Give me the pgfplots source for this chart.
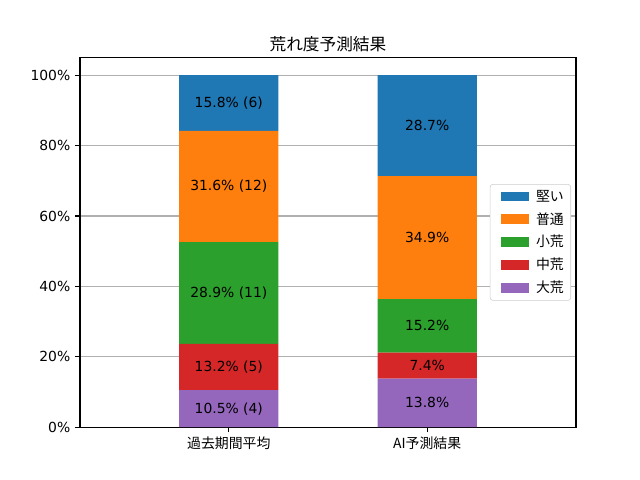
\documentclass[border=0pt]{standalone}
\usepackage{fontspec}
\setmainfont{DejaVu Sans}
\newfontfamily\jp{Noto Sans CJK JP}
\usepackage{pgfplots}
\pgfplotsset{compat=1.18}
\definecolor{cblue}{HTML}{1F77B4}
\definecolor{corange}{HTML}{FF7F0E}
\definecolor{cgreen}{HTML}{2CA02C}
\definecolor{cred}{HTML}{D62728}
\definecolor{cpurple}{HTML}{9467BD}
\begin{document}
\begin{tikzpicture}[x=1pt,y=1pt]
\path[use as bounding box] (0,0) rectangle (460.8,345.6);
\begin{axis}[
  at={(57.6pt,38.016pt)}, anchor=south west,
  scale only axis, width=357.12pt, height=266.11pt,
  xmin=-0.75, xmax=1.75, ymin=0, ymax=105,
  ybar stacked, bar width=0.5,
  xtick={0,1}, xticklabels={{\jp 過去期間平均},{\jp AI予測結果}},
  ytick={0,20,40,60,80,100},
  yticklabel={\pgfmathprintnumber{\tick}\%},
  /pgf/number format/assume math mode=true,
  tick align=outside, tick pos=left,
  major tick length=3.5pt,
  tick style={black, line width=0.8pt},
  axis line style={line width=0.8pt},
  ymajorgrids, grid style={color=black!31, line width=0.8pt},
  title={\jp 荒れ度予測結果},
  title style={font=\fontsize{12}{14.4}\selectfont, yshift=-5.5pt},
  ticklabel style={font=\fontsize{10}{12}\selectfont},
  reverse legend,
  legend cell align=left,
  legend style={at={(rel axis cs:0.99,0.5)}, anchor=east, draw=black!20, rounded corners=2pt, font=\jp\fontsize{10}{12}\selectfont, row sep=2.6pt},
  legend image code/.code={\path (-5pt,0pt) (23pt,0pt); \fill[#1, sharp corners] (0pt,-3.5pt) rectangle (20pt,3.5pt);},
]
\addplot[fill=cpurple, draw=none] coordinates {(0,10.5) (1,13.8)};
\addlegendentry{大荒}
\addplot[fill=cred, draw=none] coordinates {(0,13.2) (1,7.4)};
\addlegendentry{中荒}
\addplot[fill=cgreen, draw=none] coordinates {(0,28.9) (1,15.2)};
\addlegendentry{小荒}
\addplot[fill=corange, draw=none] coordinates {(0,31.6) (1,34.9)};
\addlegendentry{普通}
\addplot[fill=cblue, draw=none] coordinates {(0,15.8) (1,28.7)};
\addlegendentry{堅い}
\end{axis}
\begin{axis}[
  at={(57.6pt,38.016pt)}, anchor=south west,
  scale only axis, width=357.12pt, height=266.11pt,
  xmin=-0.75, xmax=1.75, ymin=0, ymax=105,
  hide axis, clip=false,
]
\addplot[draw=none, mark=none, nodes near coords, point meta=explicit symbolic,
  every node near coord/.style={anchor=center, font=\fontsize{10}{12}\selectfont, inner sep=0pt}]
  coordinates {
  (0,5.25) [10.5\% (4)]
  (0,17.1) [13.2\% (5)]
  (0,38.15) [28.9\% (11)]
  (0,68.4) [31.6\% (12)]
  (0,92.1) [15.8\% (6)]
  (1,6.9) [13.8\%]
  (1,17.5) [7.4\%]
  (1,28.8) [15.2\%]
  (1,53.85) [34.9\%]
  (1,85.65) [28.7\%]
  };
\end{axis}
\end{tikzpicture}
\end{document}
